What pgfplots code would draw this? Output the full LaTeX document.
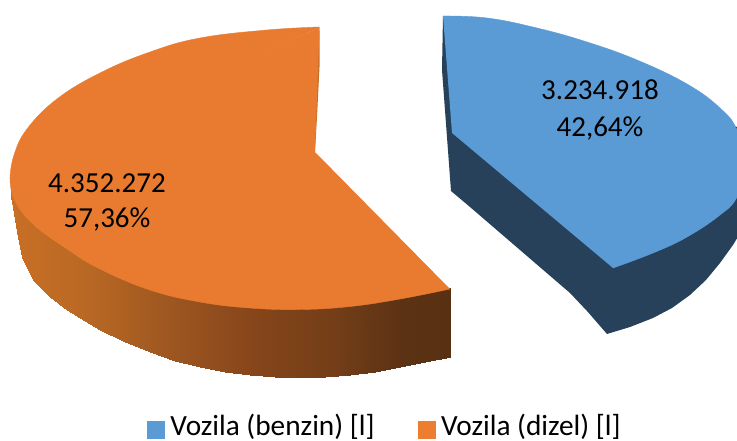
\documentclass[border=0pt]{standalone}
\usepackage{fontspec}
\setmainfont{Carlito}
\usepackage{pgfplots}
\pgfplotsset{compat=1.18}
\definecolor{otop}{HTML}{E97B30}
\definecolor{oleg}{HTML}{ED7D31}
\definecolor{owall}{HTML}{C4702A}
\definecolor{btop}{HTML}{5B9BD5}
\definecolor{bdark}{HTML}{264159}
\begin{document}
\begin{tikzpicture}
\begin{axis}[
  at={(0,0)}, anchor=south west,
  width=737pt, height=441pt, scale only axis,
  xmin=0, xmax=737, ymin=0, ymax=441, y dir=reverse,
  hide axis, clip=true,
  colormap={side}{rgb255(0)=(201,111,38) rgb255(80)=(184,104,36) rgb255(170)=(155,85,32) rgb255(250)=(134,69,26) rgb255(330)=(115,62,24) rgb255(400)=(92,50,20) rgb255(450)=(88,48,18)},
  legend style={at={(axis cs:147,425.5)}, anchor=west, draw=none, fill=none, inner sep=0pt, outer sep=0pt,
    legend columns=2, font=\fontsize{29.3pt}{30pt}\selectfont,
    /tikz/every even column/.append style={column sep=41pt},
    legend cell align=left},
  legend image code/.code={\fill[#1] (0pt,-12.5pt) rectangle (17pt,4.5pt);\path (21pt,0pt);},
]
% orange slice: outer wall
\addplot[surf, shader=interp, mesh/rows=2, point meta=x, forget plot] table {
11 180
14 195
17 205
22 212
33 215
50 228
67 242
85 252
100 262
125 274
150 284
175 290
200 294
225 297
250 300
275 300
300 300
325 300
350 299
375 296
400 292
425 286
451 288
11 197
14 213
17 232
22 257
33 280
50 297
67 310
85 321
100 330
125 342
150 352
175 361
200 367
225 372
250 375
275 376.5
300 377
325 376.5
350 375
375 371.5
400 367
425 362
451 357
};
% orange slice: inner wall
\addplot[fill=owall, draw=none, forget plot] coordinates {(319.5,27) (319.5,67) (317,117) (315,152) (311,147) (313,117) (317,67)};
% orange slice: top face
\addplot[fill=otop, draw=otop, line width=0.4pt, smooth, tension=0.7, forget plot] coordinates {(319.5,27) (267,30) (200,38) (150,52) (100,73) (57,99) (27,129) (14,155) (10,177)};
\addplot[fill=otop, draw=otop, line width=0.4pt, smooth, tension=0.7, forget plot] coordinates {(10,177) (14,199) (33,224) (67,249) (100,269) (150,290) (200,302) (250,308) (300,309.5) (350,306.5) (400,299) (450,289)};
\addplot[fill=otop, draw=none, forget plot] coordinates {(319.5,27) (250,60) (60,150) (10,177) (100,240) (250,290) (450,289) (315,152)};
% blue slice: walls
\addplot[fill=bdark, draw=none, forget plot] coordinates {(443,16) (442,70) (451,191) (470,207) (520,250) (570,293) (587,311) (607,334) (630,327) (653,318) (672,308) (690,295) (706,280) (720,263) (733,245) (745,225) (745,130)};
% blue slice: top face
\addplot[fill=btop, draw=btop, line width=0.4pt, smooth, tension=0.7, forget plot] coordinates {(443,16) (487,18) (537,28) (587,42) (637,60) (687,84) (720,108) (737,130) (746,165) (737,197) (720,215) (687,237) (653,253) (613,268)};
\addplot[fill=btop, draw=none, forget plot] coordinates {(443,16) (452,133) (613,268) (640,200) (540,60)};
% legend
\addlegendimage{btop}
\addlegendentry{Vozila (benzin) [l]}
\addlegendimage{oleg}
\addlegendentry{Vozila (dizel) [l]}
% data labels
\node[font=\fontsize{29pt}{32pt}\selectfont] at (axis cs:600,90) {3.234.918};
\node[font=\fontsize{29pt}{32pt}\selectfont] at (axis cs:600,128) {42,64\%};
\node[font=\fontsize{29pt}{32pt}\selectfont] at (axis cs:107,183) {4.352.272};
\node[font=\fontsize{29pt}{32pt}\selectfont] at (axis cs:107,219) {57,36\%};
\end{axis}
\pgfresetboundingbox
\path[use as bounding box] (0pt,0pt) rectangle (737pt,441pt);
\end{tikzpicture}
\end{document}
